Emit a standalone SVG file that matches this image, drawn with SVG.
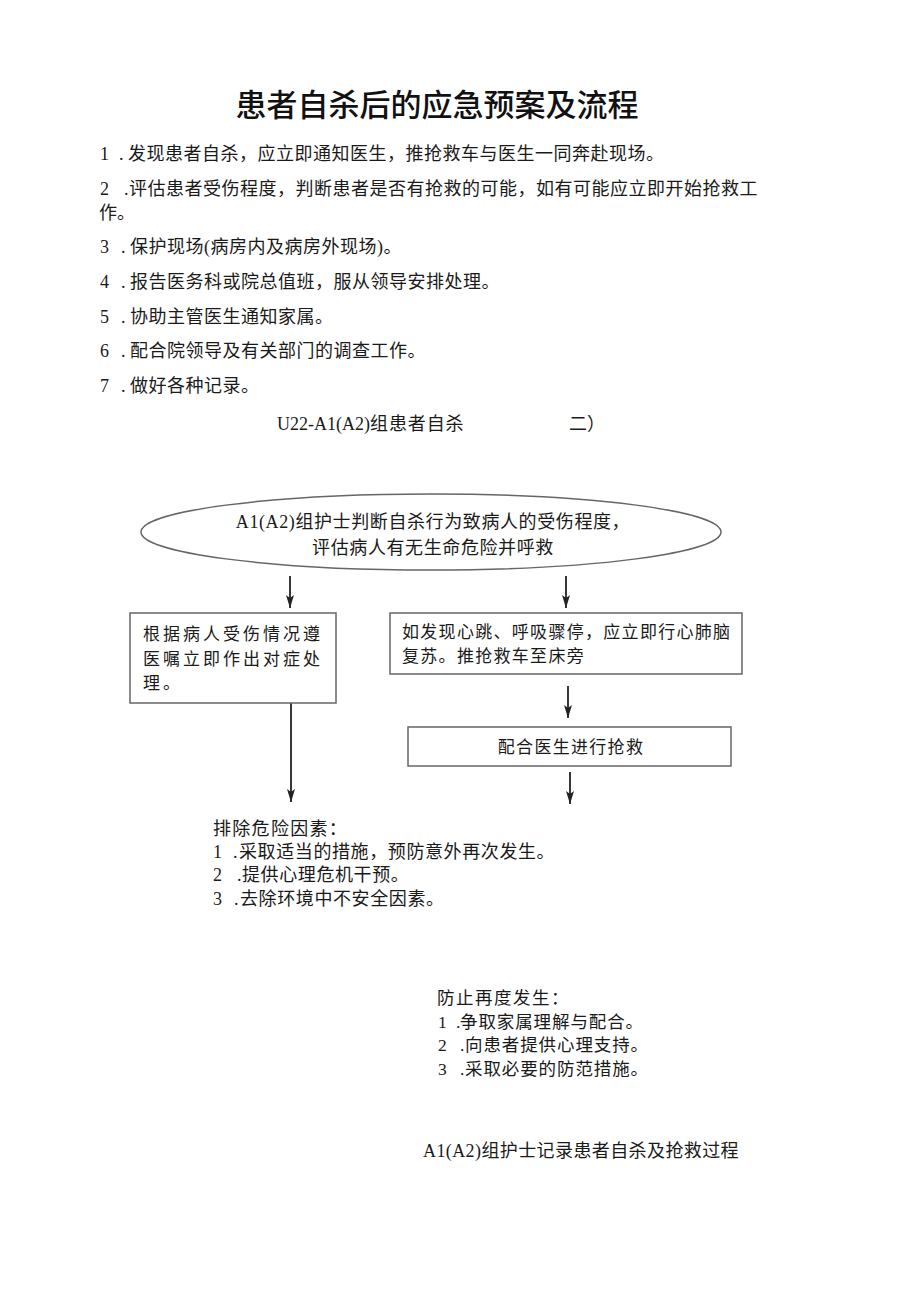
<svg xmlns="http://www.w3.org/2000/svg" width="920" height="1301" viewBox="0 0 920 1301">
<defs>
<style>
.t{font-family:"Liberation Serif","Noto Sans CJK SC",serif;font-size:18px;fill:#1a1a1a}
.s{font-family:"Liberation Serif","Noto Sans CJK SC",serif;font-size:17px;fill:#1a1a1a}
.m{font-family:"Liberation Serif","Noto Sans CJK SC",serif;font-size:17.5px;fill:#1a1a1a}
.title{font-family:"Noto Sans CJK SC","Liberation Sans",sans-serif;font-size:31px;font-weight:500;fill:#111}
.box{fill:#fff;stroke:#666;stroke-width:1.5}
.ln{stroke:#222;stroke-width:1.8;fill:none}
</style>
<marker id="ah" markerWidth="14" markerHeight="10" refX="13" refY="5" orient="auto" markerUnits="userSpaceOnUse" viewBox="0 0 14 10">
<path d="M0,1 L13,5 L0,9 L3,5 Z" fill="#222"/>
</marker>
</defs>
<rect width="920" height="1301" fill="#fff"/>
<g id="header">
<text class="title" x="437" y="116" text-anchor="middle">患者自杀后的应急预案及流程</text>
<text class="t" x="100" y="160">1<tspan x="119">.</tspan><tspan x="128" letter-spacing="0.5">发现患者自杀，应立即通知医生，推抢救车与医生一同奔赴现场。</tspan></text>
<text class="t" x="100" y="195">2<tspan x="124">.</tspan><tspan x="129" letter-spacing="0.5">评估患者受伤程度，判断患者是否有抢救的可能，如有可能应立即开始抢救工</tspan></text>
<text class="t" x="99" y="219">作。</text>
<text class="t" x="100" y="253">3<tspan x="121">.</tspan><tspan x="130" letter-spacing="0.5">保护现场(病房内及病房外现场)。</tspan></text>
<text class="t" x="100" y="288">4<tspan x="121">.</tspan><tspan x="130" letter-spacing="0.5">报告医务科或院总值班，服从领导安排处理。</tspan></text>
<text class="t" x="100" y="323">5<tspan x="121">.</tspan><tspan x="130" letter-spacing="0.5">协助主管医生通知家属。</tspan></text>
<text class="t" x="100" y="357">6<tspan x="121">.</tspan><tspan x="130" letter-spacing="0.5">配合院领导及有关部门的调查工作。</tspan></text>
<text class="t" x="100" y="392">7<tspan x="121">.</tspan><tspan x="130" letter-spacing="0.5">做好各种记录。</tspan></text>
<text class="t" x="277" y="430">U22-A1(A2)<tspan letter-spacing="0.9">组患者自杀</tspan></text>
<text class="t" x="569" y="430">二）</text>
</g>
<g id="connectors">
<line class="ln" x1="290" y1="576" x2="290" y2="608" marker-end="url(#ah)"/>
<line class="ln" x1="566" y1="576" x2="566" y2="608" marker-end="url(#ah)"/>
<line class="ln" x1="568" y1="686" x2="568" y2="718" marker-end="url(#ah)"/>
<line class="ln" x1="570" y1="772" x2="570" y2="804" marker-end="url(#ah)"/>
<line class="ln" x1="291" y1="703" x2="291" y2="802" marker-end="url(#ah)"/>
</g>
<g id="n-assess">
<ellipse class="box" cx="431" cy="532" rx="290" ry="38" stroke="#444"/>
<text class="t" x="433" y="528" text-anchor="middle" letter-spacing="0.6">A1(A2)组护士判断自杀行为致病人的受伤程度，</text>
<text class="t" x="433" y="554" text-anchor="middle" letter-spacing="0.6">评估病人有无生命危险并呼救</text>
</g>
<g id="n-treat">
<rect class="box" x="130" y="613" width="206" height="90"/>
<text class="s" x="143" y="640" letter-spacing="3">根据病人受伤情况遵</text>
<text class="s" x="143" y="665" letter-spacing="3">医嘱立即作出对症处</text>
<text class="s" x="143" y="689" letter-spacing="3">理。</text>
</g>
<g id="n-cpr">
<rect class="box" x="390" y="613" width="352" height="61"/>
<text class="s" x="402" y="638" letter-spacing="1.3">如发现心跳、呼吸骤停，应立即行心肺脑</text>
<text class="s" x="402" y="662" letter-spacing="1.3">复苏。推抢救车至床旁</text>
</g>
<g id="n-rescue">
<rect class="box" x="408" y="727" width="323" height="39"/>
<text class="s" x="571" y="753" text-anchor="middle" letter-spacing="1.3">配合医生进行抢救</text>
</g>
<g id="n-eliminate">
<text class="t" x="213" y="835" letter-spacing="1.3">排除危险因素：</text>
<text class="t" x="213" y="858">1<tspan x="233">.</tspan><tspan x="239" letter-spacing="0.6">采取适当的措施，预防意外再次发生。</tspan></text>
<text class="t" x="213" y="881">2<tspan x="237">.</tspan><tspan x="242" letter-spacing="0.6">提供心理危机干预。</tspan></text>
<text class="t" x="213" y="905">3<tspan x="234">.</tspan><tspan x="240" letter-spacing="0.6">去除环境中不安全因素。</tspan></text>
</g>
<g id="n-prevent">
<text class="m" x="437" y="1004" letter-spacing="1.5">防止再度发生：</text>
<text class="m" x="438" y="1028">1<tspan x="456">.</tspan><tspan x="460" letter-spacing="0.9">争取家属理解与配合。</tspan></text>
<text class="m" x="438" y="1051">2<tspan x="460">.</tspan><tspan x="465" letter-spacing="0.9">向患者提供心理支持。</tspan></text>
<text class="m" x="438" y="1075">3<tspan x="460">.</tspan><tspan x="465" letter-spacing="0.9">采取必要的防范措施。</tspan></text>
</g>
<g id="n-record">
<text class="t" x="423" y="1157" letter-spacing="0.4">A1(A2)组护士记录患者自杀及抢救过程</text>
</g>
</svg>
